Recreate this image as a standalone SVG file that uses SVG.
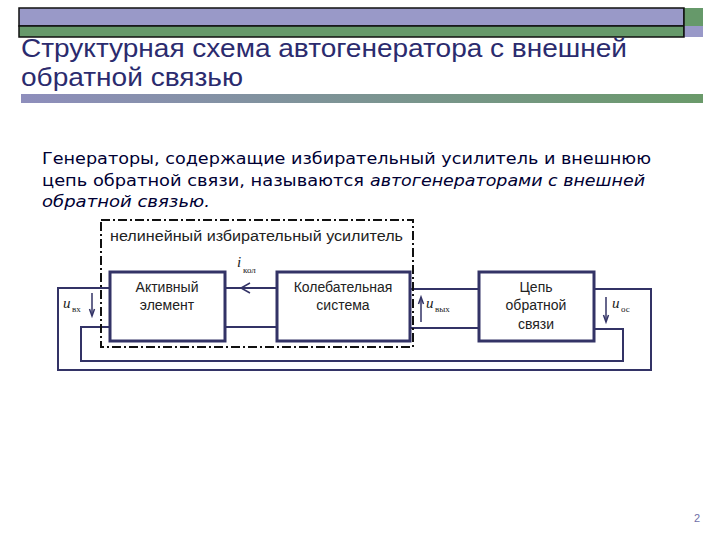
<svg xmlns="http://www.w3.org/2000/svg" width="720" height="540" viewBox="0 0 720 540">
<defs>
<linearGradient id="g" x1="0" y1="0" x2="1" y2="0">
<stop offset="0" stop-color="#8e8ebc"/>
<stop offset="1" stop-color="#6a9a6a"/>
</linearGradient>
<style>
.title{font-family:"Liberation Sans",Arial,sans-serif;font-size:26px;fill:#2b2b6e}
.body{font-family:"DejaVu Sans",Verdana,sans-serif;font-size:16.5px;fill:#000033}
.it{font-style:italic}
.lbl{font-family:"Liberation Sans",Arial,sans-serif;font-size:14px;fill:#222}
.sym{font-family:"Liberation Serif","Times New Roman",serif;font-style:italic;font-size:15px;fill:#222}
.sub{font-family:"Liberation Serif","Times New Roman",serif;font-size:9px;fill:#222}
.box{fill:#fff;stroke:#333366;stroke-width:3}
.wire{fill:none;stroke:#333366;stroke-width:2}
.dd{fill:none;stroke:#111;stroke-width:2;stroke-dasharray:9 3 2 3}
.ar{fill:none;stroke:#333366;stroke-width:1.5}
</style>
</defs>
<rect width="720" height="540" fill="#fff"/>
<g id="header">
<rect x="19" y="8" width="665" height="18" fill="#9999c8" stroke="#111" stroke-width="1.5"/>
<rect x="19" y="26" width="665" height="11" fill="#66996a" stroke="#111" stroke-width="1.5"/>
<rect x="684" y="8" width="19" height="18" fill="#66996a"/>
<rect x="684" y="26" width="19" height="11" fill="#9999c8"/>
<line x1="684" y1="8" x2="684" y2="37" stroke="#111" stroke-width="1.5"/>
<text class="title" x="21" y="57" textLength="606" lengthAdjust="spacingAndGlyphs">Структурная схема автогенератора с внешней</text>
<text class="title" x="21" y="86" textLength="222" lengthAdjust="spacingAndGlyphs">обратной связью</text>
<rect x="21" y="94" width="682" height="9" fill="url(#g)"/>
</g>
<g id="intro">
<text class="body" x="42" y="164" textLength="609" lengthAdjust="spacingAndGlyphs">Генераторы, содержащие избирательный усилитель и внешнюю</text>
<text class="body" x="42" y="186" textLength="322" lengthAdjust="spacingAndGlyphs">цепь обратной связи, называются</text>
<text class="body it" x="370" y="186" textLength="275" lengthAdjust="spacingAndGlyphs">автогенераторами с внешней</text>
<text class="body it" x="42" y="207" textLength="168" lengthAdjust="spacingAndGlyphs">обратной связью.</text>
</g>
<g id="connectors">
<polyline class="wire" points="110,288 58,288 58,370 651,370 651,289 594,289"/>
<polyline class="wire" points="110,327 81,327 81,361 623,361 623,329 594,329"/>
<line class="wire" x1="225" y1="288" x2="277" y2="288"/>
<polyline class="ar" points="250,283 241,288 250,293"/>
<line class="wire" x1="225" y1="327" x2="277" y2="327"/>
<line class="wire" x1="410" y1="289" x2="479" y2="289"/>
<line class="wire" x1="410" y1="328" x2="479" y2="328"/>
<g id="u-in">
<line class="ar" x1="92" y1="293" x2="92" y2="315"/>
<polyline class="ar" points="89.5,309 92,316 94.5,309"/>
</g>
<g id="u-out">
<line class="ar" x1="421" y1="322" x2="421" y2="298"/>
<polyline class="ar" points="418.5,304 421,297 423.5,304"/>
</g>
<g id="u-fb">
<line class="ar" x1="606" y1="297" x2="606" y2="321"/>
<polyline class="ar" points="603.5,315 606,322 608.5,315"/>
</g>
</g>
<g id="amp">
<rect class="dd" x="101" y="220" width="312" height="127"/>
<text class="lbl" x="110" y="241" textLength="293" lengthAdjust="spacingAndGlyphs">нелинейный избирательный усилитель</text>
</g>
<g id="active">
<rect class="box" x="110" y="272" width="115" height="69"/>
<text class="lbl" x="167" y="292" text-anchor="middle">Активный</text>
<text class="lbl" x="167" y="310" text-anchor="middle">элемент</text>
</g>
<g id="osc">
<rect class="box" x="277" y="272" width="133" height="69"/>
<text class="lbl" x="343" y="292" text-anchor="middle">Колебательная</text>
<text class="lbl" x="343" y="310" text-anchor="middle">система</text>
</g>
<g id="fb">
<rect class="box" x="479" y="272" width="115" height="69"/>
<text class="lbl" x="536" y="292" text-anchor="middle">Цепь</text>
<text class="lbl" x="536" y="310" text-anchor="middle">обратной</text>
<text class="lbl" x="536" y="329" text-anchor="middle">связи</text>
</g>
<g id="labels">
<text class="sym" x="237" y="267">i</text><text class="sub" x="243" y="273">кол</text>
<text class="sym" x="63" y="308">u</text><text class="sub" x="72" y="312">вх</text>
<text class="sym" x="426" y="308">u</text><text class="sub" x="435" y="312">вых</text>
<text class="sym" x="612" y="308">u</text><text class="sub" x="621" y="312">ос</text>
</g>
<text x="694" y="522" font-family="Liberation Sans,Arial,sans-serif" font-size="11" fill="#7070a8">2</text>
</svg>
